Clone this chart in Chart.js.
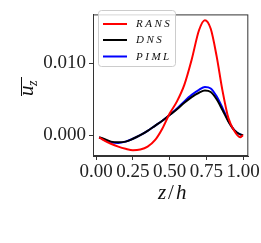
<!DOCTYPE html>
<html>
<head>
<meta charset="utf-8">
<script src="https://cdn.jsdelivr.net/npm/chart.js@4.4.1/dist/chart.umd.min.js"></script>
<style>
  html, body { margin: 0; padding: 0; background: #fff; }
  #wrap { width: 261px; height: 243px; position: relative; }
</style>
</head>
<body>
<div id="wrap"><canvas id="uzChart"></canvas></div>
<script>
// posisi z/h
var zh = [0.02, 0.05, 0.10, 0.15, 0.20, 0.25, 0.30, 0.35, 0.40, 0.45, 0.50, 0.55,
          0.60, 0.65, 0.70, 0.74, 0.78, 0.82, 0.86, 0.90, 0.94, 0.98, 1.00];

// nilai u_z tiap model
var rans = [-0.0003, -0.0007, -0.0012, -0.0016, -0.0019, -0.0021, -0.0020, -0.0016, -0.0007, 0.0009, 0.0030, 0.0047,
            0.0070, 0.0105, 0.0146, 0.0160, 0.0148, 0.0110, 0.0062, 0.0024, 0.0006, -0.0003, 0.0000];
var dns = [-0.0003, -0.0005, -0.0009, -0.0010, -0.0009, -0.0005, 0.0000, 0.0006, 0.0013, 0.0020, 0.0028, 0.0036,
           0.0045, 0.0053, 0.0059, 0.0062, 0.0060, 0.0050, 0.0035, 0.0019, 0.0007, 0.0001, 0.0000];
var piml = [-0.0003, -0.0006, -0.0010, -0.0011, -0.0009, -0.0005, 0.0000, 0.0006, 0.0013, 0.0020, 0.0028, 0.0037,
            0.0047, 0.0056, 0.0063, 0.0067, 0.0065, 0.0054, 0.0038, 0.0020, 0.0007, 0.0001, 0.0000];

var seriesNames = ['RANS', 'DNS', 'PIML'];
var seriesColors = ['#ff0000', '#000000', '#0000ff'];
var xTicks = [0, 0.25, 0.5, 0.75, 1.0];
var yTicks = [0, 0.01];

function pts(ys) {
    return zh.map(function (x, i) { return { x: x, y: ys[i] }; });
}

var tickFont = { family: '"Liberation Serif", "DejaVu Serif", serif', size: 19 };

// gambar bingkai, label sumbu, legend
var decor = {
    id: 'decor',
    afterDraw: function (chart) {
        var c = chart.ctx, a = chart.chartArea;
        c.save();
        c.strokeStyle = '#333';
        c.lineWidth = 1;
        c.strokeRect(a.left + 0.5, a.top + 0.5, a.right - a.left - 1, a.bottom - a.top - 1);

        // label x
        c.fillStyle = '#111';
        c.textBaseline = 'alphabetic';
        c.font = 'italic 21px "Liberation Serif", serif';
        c.fillText('z', 158, 199);
        c.font = '21px "Liberation Serif", serif';
        c.fillText('/', 168, 199);
        c.font = 'italic 21px "Liberation Serif", serif';
        c.fillText('h', 176, 199);

        // label y (overline u_z)
        c.save();
        c.translate(33, 96);
        c.rotate(-Math.PI / 2);
        c.font = 'italic 21px "Liberation Serif", serif';
        c.fillText('u', 0, 0);
        c.font = 'italic 14px "Liberation Serif", serif';
        c.fillText('z', 10, 4);
        c.beginPath();
        c.lineWidth = 1;
        c.strokeStyle = '#111';
        c.moveTo(0, -11.5);
        c.lineTo(19, -11.5);
        c.stroke();
        c.restore();

        // legend
        var lx = 98, ly = 10, lw = 77, lh = 56;
        c.beginPath();
        c.roundRect(lx + 0.5, ly + 0.5, lw, lh, 3);
        c.fillStyle = 'rgba(255,255,255,0.8)';
        c.fill();
        c.strokeStyle = '#cccccc';
        c.stroke();
        var rows = [24, 40, 56.5];
        c.font = 'italic 11px "Liberation Serif", serif';
        c.letterSpacing = '2.5px';
        c.textBaseline = 'middle';
        for (var i = 0; i < seriesNames.length; i++) {
            c.beginPath();
            c.strokeStyle = seriesColors[i];
            c.lineWidth = 2;
            c.moveTo(103, rows[i]);
            c.lineTo(127, rows[i]);
            c.stroke();
            c.fillStyle = '#111';
            c.fillText(seriesNames[i], 136, rows[i] + 0.5);
        }
        c.restore();
    }
};

var ctx = document.getElementById('uzChart').getContext('2d');
var chart = new Chart(ctx, {
    type: 'scatter',
    data: {
        datasets: [
            { label: 'RANS', data: pts(rans), borderColor: seriesColors[0] },
            { label: 'DNS', data: pts(dns), borderColor: seriesColors[1] },
            { label: 'PIML', data: pts(piml), borderColor: seriesColors[2] }
        ].map(function (d) {
            d.showLine = true;
            d.borderWidth = 2;
            d.pointRadius = 0;
            d.tension = 0.4;
            d.cubicInterpolationMode = 'monotone';
            d.fill = false;
            return d;
        })
    },
    options: {
        responsive: true,
        maintainAspectRatio: false,
        animation: false,
        layout: { padding: { left: 0, right: 10, top: 8, bottom: 0 } },
        plugins: {
            legend: { display: false },
            tooltip: { enabled: false }
        },
        scales: {
            x: {
                type: 'linear',
                min: -0.022,
                max: 1.036,
                afterBuildTicks: function (s) { s.ticks = xTicks.map(function (v) { return { value: v }; }); },
                afterFit: function (s) { s.height = 87; },
                grid: { drawOnChartArea: false, drawTicks: true, tickLength: 4, color: '#333' },
                border: { display: true, color: '#333' },
                ticks: {
                    font: tickFont, color: '#222', padding: 1, maxRotation: 0, autoSkip: false,
                    callback: function (v) { return v.toFixed(2); }
                }
            },
            y: {
                type: 'linear',
                min: -0.0029,
                max: 0.0168,
                afterBuildTicks: function (s) { s.ticks = yTicks.map(function (v) { return { value: v }; }); },
                afterFit: function (s) { s.width = 93; },
                grid: { drawOnChartArea: false, drawTicks: true, tickLength: 4, color: '#333' },
                border: { display: true, color: '#333' },
                ticks: {
                    font: tickFont, color: '#222', padding: 3,
                    callback: function (v) { return v.toFixed(3); }
                }
            }
        }
    },
    plugins: [decor]
});
</script>
</body>
</html>
